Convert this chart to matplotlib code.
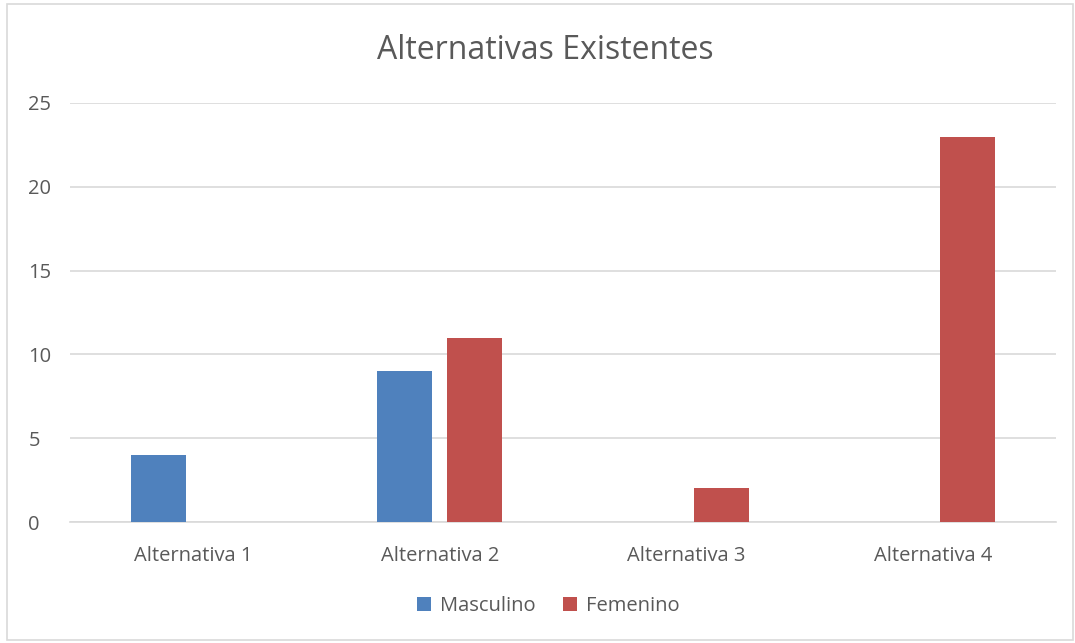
import numpy as np
import matplotlib.pyplot as plt
from matplotlib.patches import Rectangle

categorias = ['Alternativa 1', 'Alternativa 2', 'Alternativa 3', 'Alternativa 4']
masculino = [4, 9, 0, 0]
femenino = [0, 11, 2, 23]
y_ticks = [0, 5, 10, 15, 20, 25]

plt.rcParams['font.family'] = ['Open Sans', 'DejaVu Sans']
texto = '#595959'

fig = plt.figure(figsize=(10.75, 6.43), dpi=100)
ax = fig.add_axes([70 / 1075, 121 / 643, 986 / 1075, 419 / 643])

# borde del gráfico
fig.patches.append(Rectangle((7 / 1075, 3 / 643), 1066 / 1075, 636 / 643,
                             transform=fig.transFigure, fill=False,
                             edgecolor='#D9D9D9', lw=1.2))

x = np.arange(len(categorias))
ancho = 0.223
ax.bar(x - 0.142, masculino, ancho, color='#4F81BD', label='Masculino', zorder=3)
ax.bar(x + 0.142, femenino, ancho, color='#C0504D', label='Femenino', zorder=3)

ax.set_xlim(-0.5, 3.5)
ax.set_ylim(0, 25)
ax.set_yticks(y_ticks)
ax.set_xticks(x)
ax.set_xticklabels(categorias)
ax.yaxis.grid(True, color='#D9D9D9', lw=1.2, zorder=0)
for s in ['top', 'right', 'left']:
    ax.spines[s].set_visible(False)
ax.spines['bottom'].set_color('#D9D9D9')
ax.spines['bottom'].set_linewidth(1.2)
ax.tick_params(axis='both', length=0, labelsize=14.5, colors=texto)
ax.tick_params(axis='x', pad=17)
ax.tick_params(axis='y', pad=30)
for lbl in ax.get_yticklabels():
    lbl.set_horizontalalignment('left')

fig.text(0.507, 0.922, 'Alternativas Existentes', ha='center', va='center',
         fontsize=23, color=texto)

fig.legend(loc='center', bbox_to_anchor=(0.51, 0.057), ncol=2, frameon=False,
           fontsize=14.5, labelcolor=texto, handlelength=0.7, handleheight=0.7,
           handletextpad=0.4, columnspacing=1.4)

fig.savefig('out.png', dpi=100)
